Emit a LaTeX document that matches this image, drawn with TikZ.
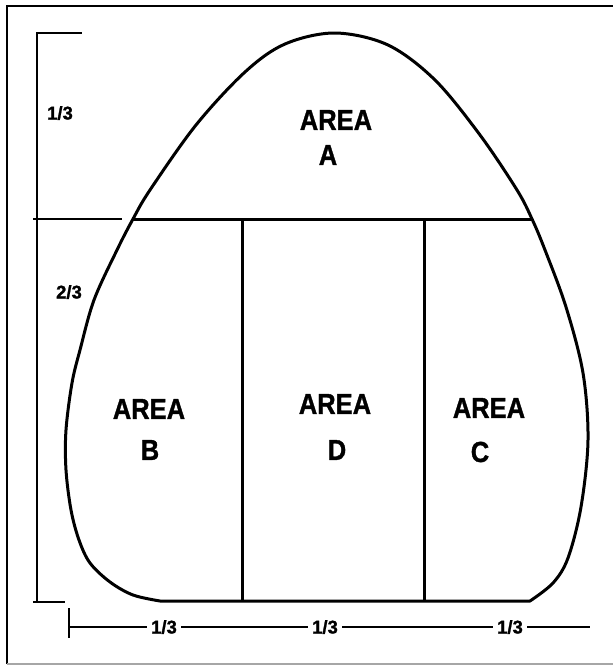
\documentclass[tikz,border=0pt]{standalone}
\usepackage{fontspec}
\setmainfont{Liberation Sans}[BoldFeatures={FakeBold=1.2}]
\newcommand\narrowtxt[1]{\scalebox{0.88}[1]{#1}}
\begin{document}
\begin{tikzpicture}[x=1pt,y=-1pt,
  outline/.style={line width=3pt, line join=round, line cap=round},
  divider/.style={line width=3pt},
  ruler/.style={line width=2.2pt},
  frameline/.style={line width=1.6pt},
  arealbl/.style={font=\bfseries\fontsize{29}{29}\selectfont, inner sep=0pt},
  fraclbl/.style={font=\bfseries\fontsize{18.5}{18.5}\selectfont, inner sep=0pt},
  cutlbl/.style={fraclbl, fill=white, inner xsep=4pt, inner ysep=2pt}]
\useasboundingbox (0,0) rectangle (613,665);
% frame
\draw[frameline] (7,664) -- (7,6) -- (613,6);
\draw[frameline, gray!70] (7,664) -- (613,664);
% outline of the shape
\draw[outline] plot[smooth, tension=0.55] coordinates {
  (160,601) (133,595) (110,582) (90,563) (79,540) (71,510) (66,470) (66,430)
  (72,383) (80,350) (94,300) (117,250) (133,219) (150,190) (196,125) (245,72)
  (285,44) (335,33) (388,45) (435,80) (480,135) (517,190) (532,219) (545,250)
  (566,307) (583,373) (588,440) (581,507) (568,558) (553,583) (530,601)}
  -- cycle;
% dividers
\coordinate (hl) at (133,219);
\coordinate (hr) at (532,219);
\coordinate (v1t) at (242,219);
\coordinate (v1b) at (242,601);
\coordinate (v2t) at (424,219);
\coordinate (v2b) at (424,601);
\draw[divider] (hl) -- (hr);
\draw[divider] (v1t) -- (v1b);
\draw[divider] (v2t) -- (v2b);
% vertical ruler
\coordinate (rt) at (37,33);
\coordinate (rm) at (37,219);
\coordinate (rb) at (37,602);
\draw[ruler] (rt) -- (rb);
\draw[ruler] (36,33) -- (82,33);
\draw[ruler] (33,219) -- (122,219);
\draw[ruler] (33,602) -- (65,602);
\node[fraclbl] (v13) at (60,113) {1/3};
\node[fraclbl] (v23) at (69,292) {2/3};
% horizontal ruler
\coordinate (bl) at (69,627);
\coordinate (br) at (590,627);
\draw[ruler] (69,608) -- (69,638);
\draw[ruler] (bl) -- (br);
\node[cutlbl] (h1) at (164,627) {1/3};
\node[cutlbl] (h2) at (325,627) {1/3};
\node[cutlbl] (h3) at (510,627) {1/3};
% area labels
\node[arealbl] (aA) at (336,120) {\narrowtxt{AREA}};
\node[arealbl] (lA) at (328,155) {\narrowtxt{A}};
\node[arealbl] (aB) at (149,409) {\narrowtxt{AREA}};
\node[arealbl] (lB) at (150,450) {\narrowtxt{B}};
\node[arealbl] (aD) at (335,404) {\narrowtxt{AREA}};
\node[arealbl] (lD) at (337,450) {\narrowtxt{D}};
\node[arealbl] (aC) at (489,408) {\narrowtxt{AREA}};
\node[arealbl] (lC) at (480,452) {\narrowtxt{C}};
\end{tikzpicture}
\end{document}
